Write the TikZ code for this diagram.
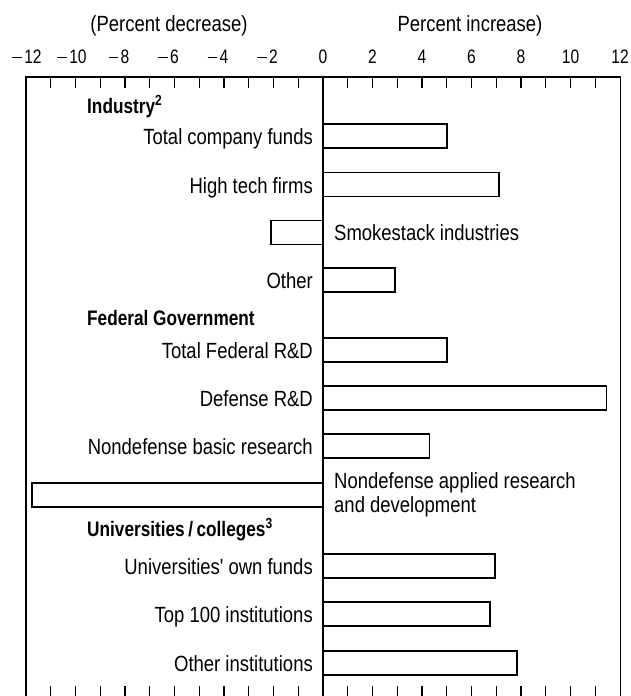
\documentclass[tikz,border=0pt]{standalone}
\usepackage{fontspec}
\setmainfont{Liberation Sans}
\newfontfamily\cond[FakeStretch=0.84]{Liberation Sans}
\newfontfamily\condb[FakeStretch=0.82]{Liberation Sans Bold}
\newfontfamily\condn[FakeStretch=0.8]{Liberation Sans}
\newcommand\mysign{\llap{\rule[5.2pt]{9.5pt}{1.1pt}\kern2.5pt}}
\tikzset{
  frameline/.style={line width=1.7pt, line cap=rect},
  zeroline/.style={line width=1.5pt},
  tickmark/.style={line width=1.1pt},
  barbox/.style={draw, line width=1.7pt, fill=white},
  lbl/.style={anchor=base east, inner sep=0pt, font=\cond\fontsize{22}{24}\selectfont},
  rlbl/.style={anchor=base west, inner sep=0pt, font=\cond\fontsize{22}{24}\selectfont},
  hdr/.style={anchor=base west, inner sep=0pt, font=\condb\fontsize{21}{24}\selectfont},
  num/.style={anchor=base, inner sep=0pt, font=\condn\fontsize{19.5}{22}\selectfont},
  ttl/.style={anchor=base, inner sep=0pt, font=\cond\fontsize{22}{24}\selectfont}
}
\begin{document}
\begin{tikzpicture}[x=1pt,y=-1pt]
\useasboundingbox (0,0) rectangle (631,696);
\fill[white] (0,0) rectangle (631,696);
% titles
\node[ttl] (tdec) at (169,31) {(Percent decrease)};
\node[ttl] (tinc) at (470,31) {Percent increase)};
% axis numbers
\node[num] (nm12) at (33,63) {\mysign 12};
\node[num] (nm10) at (78,63) {\mysign 10};
\foreach \v/\nm in {-8/nm8,-6/nm6,-4/nm4,-2/nm2}{
  \node[num] (\nm) at ({323+24.75*\v},63) {\mysign\the\numexpr-\v\relax};
}
\foreach \v/\nm in {0/n0,2/n2,4/n4,6/n6,8/n8,10/n10,12/n12}{
  \node[num] (\nm) at ({323+24.75*\v},63) {\v};
}
% frame
\draw[frameline] (26,700) -- (26,77) -- (620.5,77) -- (620.5,700);
% zero line
\draw[zeroline] (323,77) -- (323,700);
% ticks
\foreach \v in {-11,...,-1,1,2,...,11}{
  \draw[tickmark] ({323+24.75*\v},77) -- ({323+24.75*\v},88);
  \draw[tickmark] ({323+24.75*\v},686) -- ({323+24.75*\v},700);
}
% headers
\node[hdr] (hind) at (87,113) {Industry\textsuperscript{2}};
\node[hdr] (hfed) at (87,325) {Federal Government};
\node[hdr] (huni) at (87,536) {Universities\,/\,colleges\textsuperscript{3}};
% bars with left labels
\foreach \t/\val/\nm/\txt in {
  124/5.0/b1/{Total company funds},
  172.5/7.1/b2/{High tech firms},
  268.3/2.9/b4/{Other},
  338.3/5.0/b5/{Total Federal R\&D},
  386/11.45/b6/{Defense R\&D},
  434/4.3/b7/{Nondefense basic research},
  554/6.95/b9/{Universities' own funds},
  602.3/6.75/b10/{Top 100 institutions},
  650.7/7.85/b11/{Other institutions}}{
  \draw[barbox] (323,\t) rectangle ({323+24.75*\val},\t+24);
  \node[lbl] (\nm) at (313,\t+20.5) {\txt};
}
% negative bars with right labels
\draw[barbox] (323,220.5) rectangle ({323-24.75*2.1},244.5);
\node[rlbl] (b3) at (334,240.5) {Smokestack industries};
\draw[barbox] (323,482.7) rectangle ({323-24.75*11.75},506.7);
\node[rlbl] (b8a) at (334,488) {Nondefense applied research};
\node[rlbl] (b8b) at (334,512) {and development};
\end{tikzpicture}
\end{document}
